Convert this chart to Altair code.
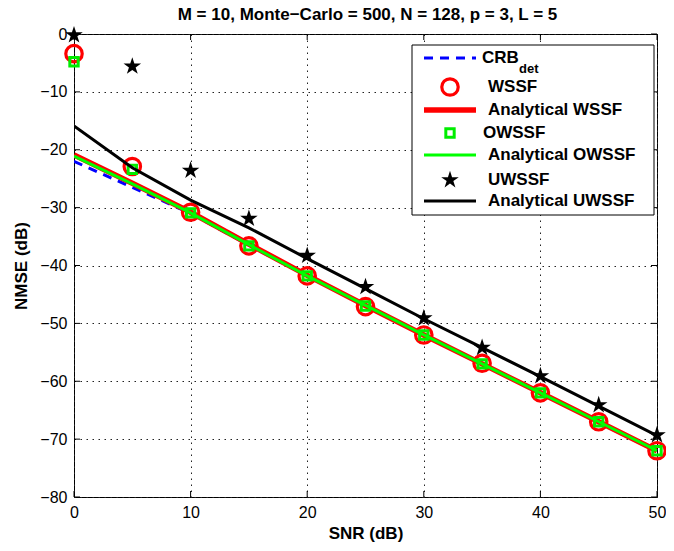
import altair as alt
import pandas as pd

# ---------------- data ----------------
snr = [0, 5, 10, 15, 20, 25, 30, 35, 40, 45, 50]
crb_det = [-22.0, -26.5, -31.0, -36.5, -41.8, -46.9, -52.0, -57.0, -62.0, -67.0, -72.0]
wssf = [-3.4, -22.9, -30.8, -36.6, -41.8, -47.1, -52.0, -56.9, -62.0, -67.0, -72.0]
wssf_analytical = [-20.9, -25.8, -30.8, -36.3, -41.7, -46.9, -52.0, -57.0, -62.0, -67.0, -72.0]
owssf = [-4.8, -23.4, -30.9, -36.6, -41.8, -47.0, -52.0, -57.0, -62.0, -67.0, -72.0]
owssf_analytical = [-21.1, -25.9, -30.9, -36.4, -41.8, -46.9, -52.0, -57.0, -62.0, -67.0, -72.0]
uwssf = [-0.2, -5.6, -23.6, -31.9, -38.3, -43.7, -49.1, -54.2, -59.1, -64.1, -69.3]
uwssf_analytical = [-15.9, -23.1, -28.7, -33.5, -38.8, -44.0, -49.2, -54.2, -59.2, -64.3, -69.4]

x_ticks = [0, 10, 20, 30, 40, 50]
y_ticks = [-80, -70, -60, -50, -40, -30, -20, -10, 0]

title_text = "M = 10, Monte\u2212Carlo = 500, N = 128, p = 3, L = 5"

legend_entries = ["CRB", "WSSF", "Analytical WSSF", "OWSSF",
                  "Analytical OWSSF", "UWSSF", "Analytical UWSSF"]

W, H = 583, 463
FONT = "Liberation Sans"
STAR = ("M0,-1L0.2245,-0.309L0.9511,-0.309L0.3633,0.118L0.5878,0.809L0,0.382"
        "L-0.5878,0.809L-0.3633,0.118L-0.9511,-0.309L-0.2245,-0.309Z")


def frame(vals):
    return pd.DataFrame({"snr": snr, "nmse": vals})


x_axis = alt.Axis(values=x_ticks, title="SNR (dB)", grid=True, gridDash=[1.5, 4.5],
                  gridColor="#222222", gridWidth=1, domain=False, ticks=False, orient="bottom",
                  labelFont=FONT, labelFontSize=16, labelColor="black", labelPadding=7,
                  labelFlush=False, titleFont=FONT, titleFontSize=17, titleFontWeight="bold",
                  titleColor="black", titleX=W / 2, titleY=36.5, titleBaseline="middle",
                  format="d")
y_axis = alt.Axis(values=y_ticks, title="NMSE (dB)", grid=True, gridDash=[1.5, 4.5],
                  gridColor="#222222", gridWidth=1, domain=False, ticks=False, orient="left",
                  labelFont=FONT, labelFontSize=16, labelColor="black", labelPadding=7,
                  labelFlush=False, titleFont=FONT, titleFontSize=17, titleFontWeight="bold",
                  titleColor="black", titleX=-53, titleY=H / 2, titleBaseline="middle",
                  titleAlign="center", format="d")

xscale = alt.Scale(domain=[0, 50], nice=False, zero=False)
yscale = alt.Scale(domain=[-80, 0], nice=False, zero=False)
X = alt.X("snr:Q", scale=xscale, axis=x_axis)
Y = alt.Y("nmse:Q", scale=yscale, axis=y_axis)

layers = []

# CRB dashed blue
layers.append(alt.Chart(frame(crb_det)).mark_line(color="#0000ff", strokeWidth=3,
              strokeDash=[9, 7], clip=True).encode(x=X, y=Y))
# WSSF circles
layers.append(alt.Chart(frame(wssf)).mark_point(shape="circle", color="#ff0000", filled=False,
              strokeWidth=3.2, size=270, opacity=1).encode(x=X, y=Y))
# analytical WSSF
layers.append(alt.Chart(frame(wssf_analytical)).mark_line(color="#ff0000", strokeWidth=5.5,
              clip=True).encode(x=X, y=Y))
# OWSSF squares
layers.append(alt.Chart(frame(owssf)).mark_point(shape="square", color="#00ee00", filled=False,
              strokeWidth=3, size=70, opacity=1).encode(x=X, y=Y))
# analytical OWSSF
layers.append(alt.Chart(frame(owssf_analytical)).mark_line(color="#00ff00", strokeWidth=3,
              clip=True).encode(x=X, y=Y))
# UWSSF stars
layers.append(alt.Chart(frame(uwssf)).mark_point(shape=STAR, color="black", filled=True,
              size=340, opacity=1).encode(x=X, y=Y))
# analytical UWSSF
layers.append(alt.Chart(frame(uwssf_analytical)).mark_line(color="black", strokeWidth=3,
              clip=True).encode(x=X, y=Y))

# inward ticks on all four sides (MATLAB box style)
xt = pd.DataFrame({"snr": x_ticks})
yt = pd.DataFrame({"nmse": y_ticks})
layers.append(alt.Chart(xt).mark_rule(color="black", strokeWidth=1).encode(
    x=X, y=alt.value(H), y2=alt.value(H - 6)))
layers.append(alt.Chart(xt).mark_rule(color="black", strokeWidth=1).encode(
    x=X, y=alt.value(0), y2=alt.value(6)))
layers.append(alt.Chart(yt).mark_rule(color="black", strokeWidth=1).encode(
    y=Y, x=alt.value(0), x2=alt.value(6)))
layers.append(alt.Chart(yt).mark_rule(color="black", strokeWidth=1).encode(
    y=Y, x=alt.value(W), x2=alt.value(W - 6)))

# ---------------- title as text ----------------
one = pd.DataFrame({"a": [0]})
layers.append(alt.Chart(one).mark_text(text=title_text, font=FONT, fontSize=17, fontWeight="bold",
                                       align="center", baseline="alphabetic", color="black").encode(
    x=alt.value(W / 2 + 2), y=alt.value(-14.5)))

# ---------------- manual legend ----------------
LX0, LX1 = 338, 580
LY0, LY1 = 11, 181
line_x0, line_x1, sym_x = 350, 402, 376
text_x = 414
rows_y = [24, 53, 76, 99, 121, 146, 167]

layers.append(alt.Chart(one).mark_rect(fill="white", stroke="black", strokeWidth=1).encode(
    x=alt.value(LX0), x2=alt.value(LX1), y=alt.value(LY0), y2=alt.value(LY1)))


def lrule(y, color, width, dash=None):
    kw = dict(color=color, strokeWidth=width)
    if dash:
        kw["strokeDash"] = dash
    return alt.Chart(one).mark_rule(**kw).encode(
        x=alt.value(line_x0), x2=alt.value(line_x1), y=alt.value(y))


def lsym(y, **kw):
    return alt.Chart(one).mark_point(opacity=1, **kw).encode(x=alt.value(sym_x), y=alt.value(y))


def ltext(txt, x, y, size=17):
    return alt.Chart(one).mark_text(text=txt, font=FONT, fontSize=size, fontWeight="bold",
                                    align="left", baseline="middle", color="black").encode(
        x=alt.value(x), y=alt.value(y))


layers.append(lrule(rows_y[0], "#0000ff", 3, [9, 7]))
layers.append(ltext(legend_entries[0], 408, rows_y[0]))
layers.append(ltext("det", 445, rows_y[0] + 11, 13))
layers.append(lsym(rows_y[1], shape="circle", color="#ff0000", filled=False, strokeWidth=3.2, size=270))
layers.append(ltext(legend_entries[1], text_x, rows_y[1]))
layers.append(lrule(rows_y[2], "#ff0000", 5.5))
layers.append(ltext(legend_entries[2], text_x, rows_y[2]))
layers.append(lsym(rows_y[3], shape="square", color="#00ee00", filled=False, strokeWidth=3, size=70))
layers.append(ltext(legend_entries[3], 409, rows_y[3]))
layers.append(lrule(rows_y[4], "#00ff00", 3))
layers.append(ltext(legend_entries[4], text_x, rows_y[4]))
layers.append(lsym(rows_y[5], shape=STAR, color="black", filled=True, size=340))
layers.append(ltext(legend_entries[5], text_x, rows_y[5]))
layers.append(lrule(rows_y[6], "black", 3))
layers.append(ltext(legend_entries[6], text_x, rows_y[6]))

chart = alt.layer(*layers).properties(
    width=W, height=H,
    background="white",
    autosize=alt.AutoSizeParams(type="none"),
    padding={"left": 66, "top": 26, "right": 9, "bottom": 46},
).configure_view(stroke="black", strokeWidth=1)

chart.save("out.html", embed_options={"renderer": "svg", "actions": False})
